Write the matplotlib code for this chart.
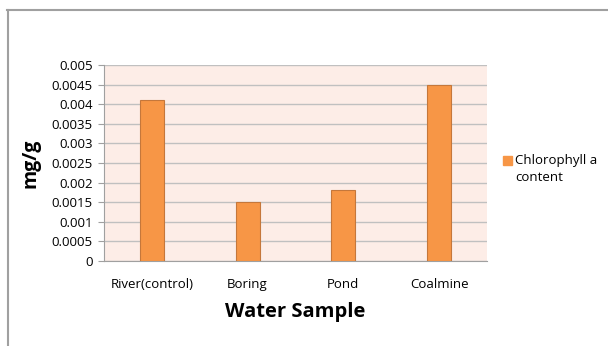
import matplotlib.pyplot as plt
from matplotlib.lines import Line2D
from matplotlib.patches import Rectangle

samples = ['River(control)', 'Boring', 'Pond', 'Coalmine']
chlorophyll = [0.0041, 0.0015, 0.0018, 0.0045]
yticks = [0, 0.0005, 0.001, 0.0015, 0.002, 0.0025, 0.003, 0.0035, 0.004, 0.0045, 0.005]
yticklabels = ['0', '0.0005', '0.001', '0.0015', '0.002', '0.0025', '0.003',
               '0.0035', '0.004', '0.0045', '0.005']

plt.rcParams['font.family'] = ['Open Sans', 'DejaVu Sans']

W, H = 608, 346
fig = plt.figure(figsize=(W / 100, H / 100), dpi=100)

# outer frame (top and left edges only are visible)
fig.add_artist(Line2D([7 / W, 1], [1 - 9.5 / H, 1 - 9.5 / H], color='#a0a0a0', lw=1.5))
fig.add_artist(Line2D([8 / W, 8 / W], [0, 1 - 9.5 / H], color='#a0a0a0', lw=1.5))

ax = fig.add_axes([104 / W, 1 - 261 / H, 383 / W, 196 / H])
ax.set_facecolor('#fdede7')

x = range(len(samples))
ax.bar(x, chlorophyll, width=0.25, color='#f79646', edgecolor='#c5773b', lw=0.8, zorder=3)

ax.set_xlim(-0.5, len(samples) - 0.5)
ax.set_ylim(0, 0.005)
ax.set_yticks(yticks)
ax.set_yticklabels(yticklabels)
ax.set_xticks(list(x))
ax.set_xticklabels(samples)
ax.grid(axis='y', color='#c0c0c0', lw=1, zorder=1)
ax.tick_params(axis='y', length=4, color='#a0a0a0', labelsize=9.5, pad=4)
ax.tick_params(axis='x', length=0, labelsize=9.5, pad=12)

for s in ['top', 'right']:
    ax.spines[s].set_visible(False)
for s in ['left', 'bottom']:
    ax.spines[s].set_color('#a0a0a0')

ax.set_xlabel('Water Sample', fontsize=14.5, fontweight='bold', labelpad=8)
ax.set_ylabel('mg/g', fontsize=14, fontweight='bold', labelpad=8)

# legend
fig.add_artist(Rectangle((503 / W, 1 - 165 / H), 9 / W, 9 / H, color='#f79646',
                         transform=fig.transFigure))
fig.text(515 / W, 1 - 169 / H, 'Chlorophyll a\ncontent', fontsize=9.5,
         va='center', ha='left', linespacing=1.45)

fig.savefig('out.png', dpi=100)
